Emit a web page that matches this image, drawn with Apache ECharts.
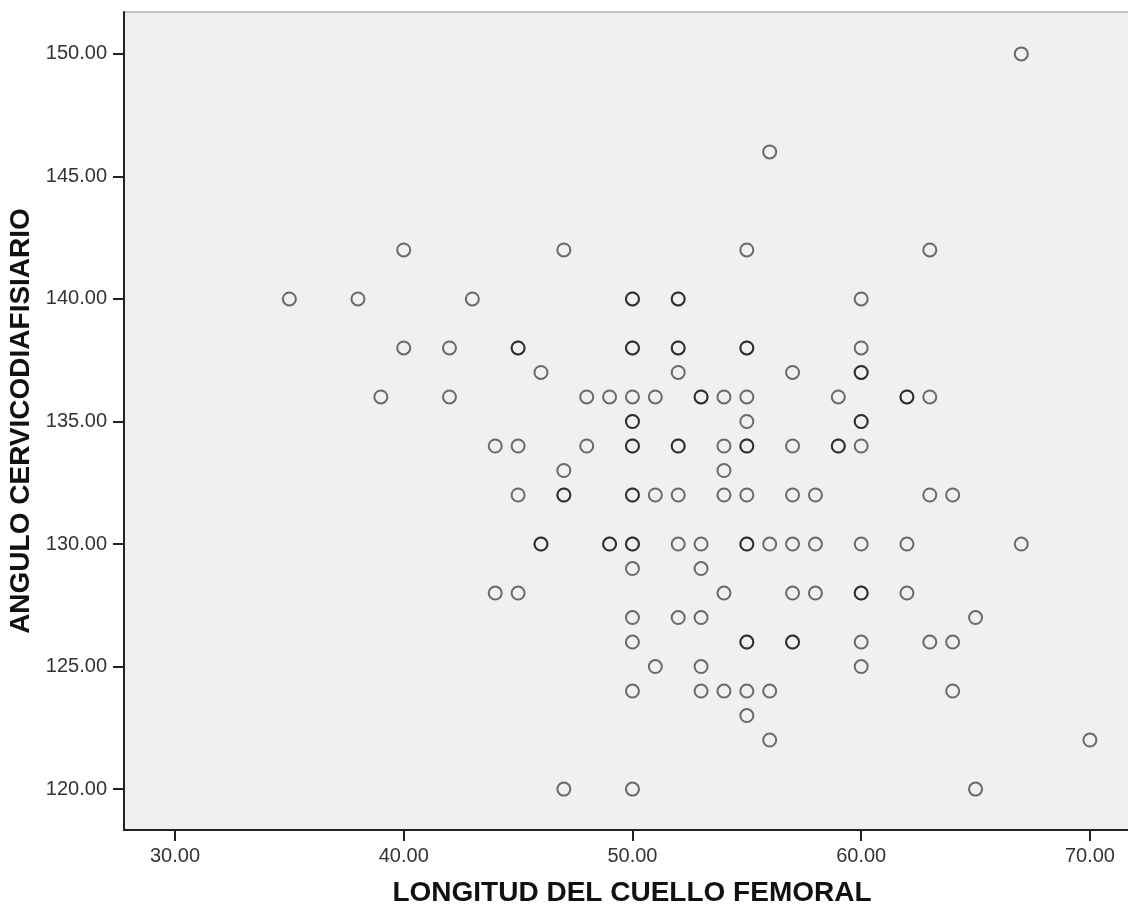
<!DOCTYPE html>
<html>
<head>
<meta charset="utf-8">
<script src="https://cdn.jsdelivr.net/npm/echarts@6/dist/echarts.min.js"></script>
<style>
  html, body { margin: 0; padding: 0; background: #fff; }
  main { width: 1128px; height: 905px; }
</style>
</head>
<body>
<main></main>
<script>
// LONGITUD DEL CUELLO FEMORAL (x) / ANGULO CERVICODIAFISIARIO (y), one pair per case
const longitud = [
  67,
  56,
  40, 47, 55, 63,
  35, 38, 43, 50, 50, 52, 52, 60,
  40, 42, 45, 45, 50, 50, 52, 52, 55, 55, 60,
  46, 52, 57, 60, 60,
  39, 42, 48, 49, 50, 51, 53, 53, 54, 55, 59, 62, 62, 63,
  50, 50, 55, 60, 60,
  44, 45, 48, 50, 50, 52, 52, 54, 55, 55, 57, 59, 59, 60,
  47, 54,
  45, 47, 47, 50, 50, 51, 52, 54, 55, 57, 58, 63, 64,
  46, 46, 49, 49, 50, 50, 52, 53, 55, 55, 56, 57, 58, 60, 62, 67,
  50, 53,
  44, 45, 54, 57, 58, 60, 60, 62,
  50, 52, 53, 65,
  50, 55, 55, 57, 57, 60, 63, 64,
  51, 53, 60,
  50, 53, 54, 55, 56, 64,
  55,
  56, 70,
  47, 50, 65,
]
const angulo = [
  150,
  146,
  142, 142, 142, 142,
  140, 140, 140, 140, 140, 140, 140, 140,
  138, 138, 138, 138, 138, 138, 138, 138, 138, 138, 138,
  137, 137, 137, 137, 137,
  136, 136, 136, 136, 136, 136, 136, 136, 136, 136, 136, 136, 136, 136,
  135, 135, 135, 135, 135,
  134, 134, 134, 134, 134, 134, 134, 134, 134, 134, 134, 134, 134, 134,
  133, 133,
  132, 132, 132, 132, 132, 132, 132, 132, 132, 132, 132, 132, 132,
  130, 130, 130, 130, 130, 130, 130, 130, 130, 130, 130, 130, 130, 130, 130, 130,
  129, 129,
  128, 128, 128, 128, 128, 128, 128, 128,
  127, 127, 127, 127,
  126, 126, 126, 126, 126, 126, 126, 126,
  125, 125, 125,
  124, 124, 124, 124, 124, 124,
  123,
  122, 122,
  120, 120, 120,
]
const xTicks = [30, 40, 50, 60, 70]
const yTicks = [120, 125, 130, 135, 140, 145, 150]

const points = longitud.map((x, i) => [x, angulo[i]])

const font = '"Liberation Sans", Arial, sans-serif'
const chart = echarts.init(document.querySelector('main'))
chart.setOption({
  animation: false,
  grid: {
    show: true,
    outerBoundsMode: 'none',
    containLabel: false,
    left: 124,
    width: 1016,
    top: 12,
    height: 818,
    backgroundColor: '#f0f0f0',
    borderColor: '#8a8a8a',
    borderWidth: 1,
  },
  xAxis: {
    type: 'value',
    min: 27.77,
    max: 72.19,
    name: 'LONGITUD DEL CUELLO FEMORAL',
    nameLocation: 'middle',
    nameGap: 49,
    nameTextStyle: { fontFamily: font, fontSize: 28, fontWeight: 'bold', color: '#111' },
    axisLine: { lineStyle: { color: '#222', width: 2 } },
    axisTick: { customValues: xTicks, length: 11, lineStyle: { color: '#222', width: 2 } },
    axisLabel: {
      customValues: xTicks,
      formatter: (v) => v.toFixed(2),
      fontFamily: font,
      fontSize: 20,
      color: '#333',
      margin: 16,
    },
    splitLine: { show: false },
  },
  yAxis: {
    type: 'value',
    min: 118.33,
    max: 151.71,
    name: 'ANGULO CERVICODIAFISIARIO',
    nameLocation: 'middle',
    nameGap: 79,
    nameTextStyle: { fontFamily: font, fontSize: 28, fontWeight: 'bold', color: '#111' },
    axisLine: { show: true, lineStyle: { color: '#222', width: 2 } },
    axisTick: { show: true, customValues: yTicks, length: 11, lineStyle: { color: '#222', width: 2 } },
    axisLabel: {
      customValues: yTicks,
      formatter: (v) => v.toFixed(2),
      fontFamily: font,
      fontSize: 20,
      color: '#333',
      margin: 17,
    },
    splitLine: { show: false },
  },
  series: [
    {
      type: 'scatter',
      data: points,
      symbol: 'circle',
      symbolSize: 13,
      itemStyle: {
        color: 'rgba(0,0,0,0)',
        borderColor: 'rgba(0,0,0,0.7)',
        borderWidth: 2,
      },
    },
  ],
})
</script>
</body>
</html>
